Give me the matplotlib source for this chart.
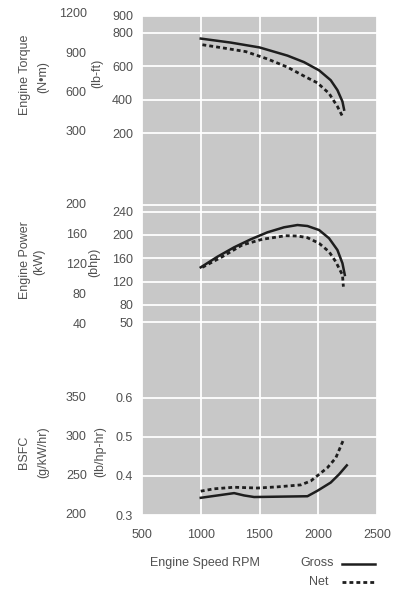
import matplotlib
matplotlib.use("Agg")
import matplotlib.pyplot as plt
from matplotlib.lines import Line2D

plt.rcParams['font.family'] = ['Liberation Sans', 'DejaVu Sans']

# engine speed grid
rpm_ticks = [500, 1000, 1500, 2000, 2500]

# torque (lb-ft)
torque_gross_rpm = [1000, 1255, 1500, 1738, 1879, 2007, 2106, 2163, 2206, 2220]
torque_gross = [765, 741, 712, 663, 624, 575, 516, 457, 388, 340]
torque_net_rpm = [1014, 1199, 1383, 1568, 1738, 1894, 1993, 2092, 2163, 2206]
torque_net = [728, 708, 687, 643, 594, 535, 500, 437, 359, 300]
lbft_ticks = [200, 400, 600, 800, 900]
nm_ticks = [300, 600, 900, 1200]

# power (bhp)
power_gross_rpm = [1000, 1142, 1284, 1426, 1568, 1709, 1823, 1908, 2007, 2092, 2163, 2206, 2226]
power_gross = [144.4, 162.6, 178.8, 192.6, 204.6, 213.2, 217.1, 215.4, 208.5, 194.3, 174.2, 151.3, 131.2]
power_net_rpm = [1014, 1183, 1353, 1524, 1723, 1823, 1908, 2007, 2092, 2149, 2206, 2214]
power_net = [144.4, 162.6, 182.8, 192.6, 198.7, 198.2, 195.3, 185.7, 171.2, 154.0, 131.2, 111.1]
bhp_ticks = [50, 80, 120, 160, 200, 240]
kw_ticks = [40, 80, 120, 160, 200]

# BSFC (lb/hp-hr)
bsfc_gross_rpm = [1000, 1142, 1284, 1369, 1454, 1908, 1993, 2106, 2177, 2243]
bsfc_gross = [0.344, 0.350, 0.356, 0.350, 0.346, 0.348, 0.362, 0.383, 0.404, 0.427]
bsfc_net_rpm = [1000, 1113, 1284, 1483, 1653, 1851, 1936, 2078, 2149, 2214]
bsfc_net = [0.361, 0.367, 0.371, 0.369, 0.372, 0.377, 0.387, 0.421, 0.446, 0.492]
lbhp_ticks = [0.3, 0.4, 0.5, 0.6]
gkw_ticks = [200, 250, 300, 350]

W, H = 400, 592
BG = '#c8c8c8'
TXT = '#505050'
LINE = '#1e1e1e'
FS = 9


def px(x, y):
    return x / W, 1 - y / H


def nm_to_lbft(v):
    return 200 + (v - 292.4) / 1.278


def kw_to_bhp(v):
    y = 205.7 + (200 - v) * 0.745
    return 240 + (212 - y) * 1.719


def gkw_to_lbhp(v):
    return 0.3 + (v - 200) / 500.0


fig = plt.figure(figsize=(W / 100, H / 100), dpi=100)
fig.patch.set_facecolor('white')

left, width = 142 / W, 235 / W
ax_t = fig.add_axes([left, 1 - 190 / H, width, 174 / H])
ax_p = fig.add_axes([left, 1 - 345 / H, width, 155 / H])
ax_b = fig.add_axes([left, 1 - 515 / H, width, 170 / H])

for ax in (ax_t, ax_p, ax_b):
    ax.set_facecolor(BG)
    for s in ax.spines.values():
        s.set_visible(False)
    ax.set_xlim(500, 2500)
    ax.set_xticks(rpm_ticks)
    ax.grid(True, color='white', lw=1.3)
    ax.set_axisbelow(True)
    ax.tick_params(length=0, labelsize=FS, labelcolor=TXT, pad=6.5)
    ax.tick_params(axis='x', pad=10)

ax_t.tick_params(labelbottom=False)
ax_p.tick_params(labelbottom=False)

dash = (0, (1.4, 1.1))
SOLID_LW = 1.8
DASH_LW = 2.0

# torque
ax_t.plot(torque_gross_rpm, torque_gross, color=LINE, lw=SOLID_LW)
ax_t.plot(torque_net_rpm, torque_net, color=LINE, lw=DASH_LW, ls=dash)
ax_t.set_ylim(800 - 160 * 5.88, 800 + 14 * 5.88)
ax_t.set_yticks(lbft_ticks)
for v in nm_ticks:
    ax_t.text(-0.235, nm_to_lbft(v), str(v), transform=ax_t.get_yaxis_transform(),
              ha='right', va='center', fontsize=FS, color=TXT)

# power
ax_p.plot(power_gross_rpm, power_gross, color=LINE, lw=SOLID_LW)
ax_p.plot(power_net_rpm, power_net, color=LINE, lw=DASH_LW, ls=dash)
ax_p.set_ylim(240 - 133.3 * 1.719, 240 + 21.7 * 1.719)
ax_p.set_yticks(bhp_ticks)
ax_p.axhline(kw_to_bhp(200), color='white', lw=1.3, zorder=0.5)
for v in kw_ticks:
    ax_p.text(-0.235, kw_to_bhp(v), str(v), transform=ax_p.get_yaxis_transform(),
              ha='right', va='center', fontsize=FS, color=TXT)

# BSFC
ax_b.plot(bsfc_gross_rpm, bsfc_gross, color=LINE, lw=SOLID_LW)
ax_b.plot(bsfc_net_rpm, bsfc_net, color=LINE, lw=DASH_LW, ls=dash)
ax_b.set_ylim(0.3, 0.735)
ax_b.set_yticks(lbhp_ticks)
ax_b.set_yticklabels(['0.3', '0.4', '0.5', '0.6'])
for v in gkw_ticks:
    ax_b.text(-0.235, gkw_to_lbhp(v), str(v), transform=ax_b.get_yaxis_transform(),
              ha='right', va='center', fontsize=FS, color=TXT)

# axis titles
labels = [
    ("Engine Torque", 25, 75), ("(N•m)", 43, 77), ("(lb-ft)", 97, 73),
    ("Engine Power", 25, 260), ("(kW)", 39, 262), ("(bhp)", 94, 262),
    ("BSFC", 24, 452), ("(g/kW/hr)", 43, 452), ("(lb/hp-hr)", 100, 452),
]
for s, x, y in labels:
    fig.text(*px(x, y), s, rotation=90, ha='center', va='center', fontsize=FS, color=TXT)

fig.text(*px(205, 563), "Engine Speed RPM", ha='center', va='center', fontsize=FS, color=TXT)

# legend
fig.text(*px(334, 563), "Gross", ha='right', va='center', fontsize=FS, color=TXT)
fig.text(*px(329, 582), "Net", ha='right', va='center', fontsize=FS, color=TXT)
x0, y0 = px(342, 564)
x1, _ = px(375, 564)
fig.add_artist(Line2D([x0, x1], [y0, y0], color=LINE, lw=SOLID_LW, transform=fig.transFigure))
x0, y1 = px(342, 582)
fig.add_artist(Line2D([x0, x1], [y1, y1], color=LINE, lw=DASH_LW, ls=dash, transform=fig.transFigure))

fig.savefig("out.png", dpi=100)
